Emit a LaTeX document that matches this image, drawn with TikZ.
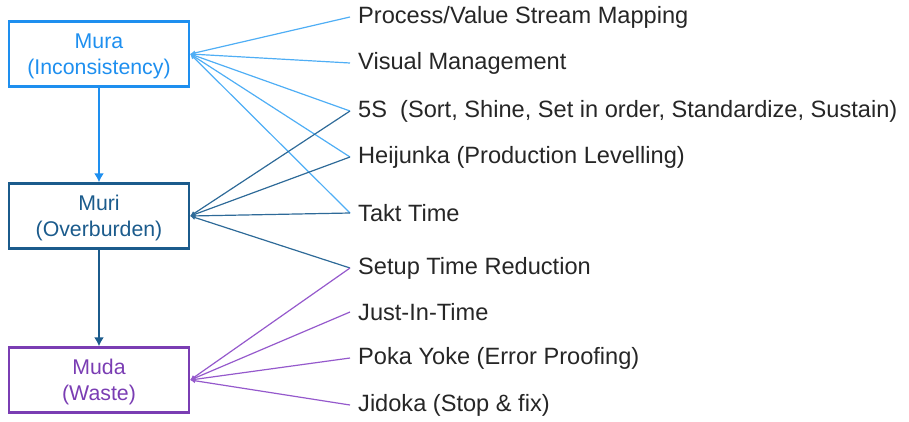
\documentclass[tikz,border=0pt]{standalone}
\usepackage{fontspec}
\setmainfont{Liberation Sans}
\usetikzlibrary{arrows.meta}
\definecolor{muracol}{HTML}{1E8FEF}
\definecolor{muralink}{HTML}{4FAEF5}
\definecolor{muricol}{HTML}{1B5B8C}
\definecolor{murilink}{HTML}{2E6A98}
\definecolor{mudacol}{HTML}{7A3DB3}
\definecolor{mudalink}{HTML}{9559CC}
\definecolor{textcol}{HTML}{262626}
\begin{document}
\begin{tikzpicture}[x=1pt,y=-1pt,
  box/.style={draw,line width=2.4pt,minimum width=180pt,minimum height=65pt,
    align=center,font=\fontsize{21.3}{26}\selectfont,inner sep=0pt},
  item/.style={anchor=west,font=\fontsize{23.6}{28}\selectfont,text=textcol,
    inner xsep=8pt,inner ysep=0pt},
  link/.style={line width=1.2pt,-{Latex[length=5pt,width=5pt]}},
  down/.style={line width=2.6pt,-{Latex[length=9pt,width=10pt]}}]
\useasboundingbox (0,0) rectangle (909,421);

% the three M's
\node[box,draw=muracol,text=muracol] (mura) at (99,54) {};
\node[muracol,font=\fontsize{21.3}{26}\selectfont,align=center] (muratxt) at (99,56) {Mura\\(Inconsistency)};
\node[box,draw=muricol,text=muricol] (muri) at (99,216) {};
\node[muricol,font=\fontsize{21.3}{26}\selectfont,align=center] (muritxt) at (99,218) {Muri\\(Overburden)};
\node[box,draw=mudacol,text=mudacol] (muda) at (99,380) {};
\node[mudacol,font=\fontsize{21.3}{26}\selectfont,align=center] (mudatxt) at (99,382) {Muda\\(Waste)};

\draw[down,muracol] (mura) -- (muri);
\draw[down,muricol] (muri) -- (muda);

% lean tools
\node[item] (vsm)   at (350,17)  {Process/Value Stream Mapping};
\node[item] (vm)    at (350,63)  {Visual Management};
\node[item] (fives) at (350,111) {5S\ \ (Sort, Shine, Set in order, Standardize, Sustain)};
\node[item] (hei)   at (350,157) {Heijunka (Production Levelling)};
\node[item] (takt)  at (350,213) {Takt Time};
\node[item] (smed)  at (350,268) {Setup Time Reduction};
\node[item] (jit)   at (350,312) {Just-In-Time};
\node[item] (poka)  at (350,358) {Poka Yoke (Error Proofing)};
\node[item] (jid)   at (350,405) {Jidoka (Stop \& fix)};

% Mura links
\foreach \t in {vsm,vm,fives,hei,takt}
  \draw[link,muralink] (\t.west) -- (mura.east);
% Muri links
\foreach \t in {fives,hei,takt,smed}
  \draw[link,murilink] (\t.west) -- (muri.east);
% Muda links
\foreach \t in {smed,jit,poka,jid}
  \draw[link,mudalink] (\t.west) -- (muda.east);
\end{tikzpicture}
\end{document}
